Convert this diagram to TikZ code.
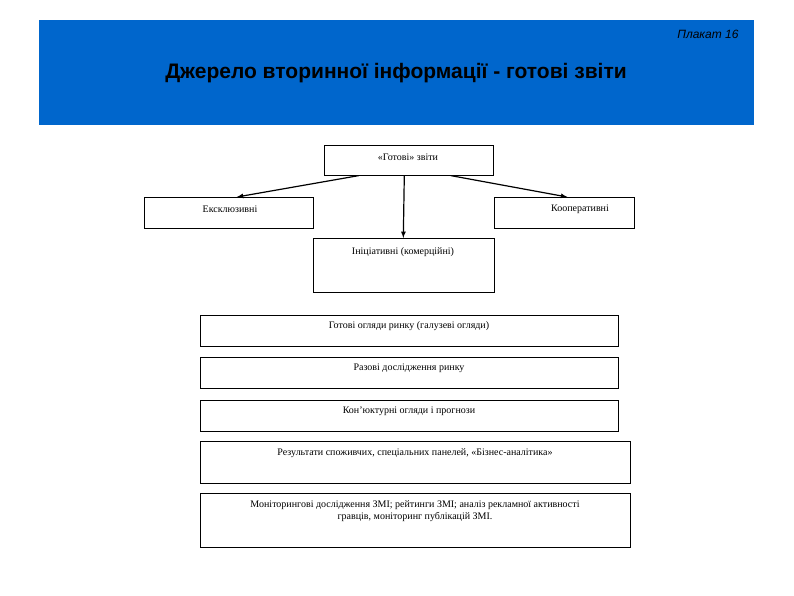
\documentclass[tikz,border=0pt]{standalone}
\usepackage{fontspec}
\setmainfont{Liberation Serif}
\newfontfamily\hdr{Liberation Sans}
\begin{document}
\begin{tikzpicture}[x=1pt,y=-1pt,
  bx/.style={draw=black,line width=0.6pt},
  lbl/.style={font=\fontsize{10}{12}\selectfont,inner sep=0pt,align=center},
  arr/.style={-latex,line width=1.2pt}]
\useasboundingbox (0,0) rectangle (794,595);
\fill[white] (0,0) rectangle (794,595);
\fill[fill={rgb,255:red,0;green,102;blue,204}] (39,20) rectangle (754,125);
\node[anchor=east,font=\hdr\itshape\fontsize{12}{14}\selectfont] (pl) at (742,34) {Плакат 16};
\node[font=\hdr\bfseries\fontsize{21}{24}\selectfont] (title) at (396,73) {Джерело вторинної інформації - готові звіти};
\node[bx,minimum width=169,minimum height=30,anchor=north west] (top) at (324,145) {};
\node[lbl] at (408,157) {«Готові» звіти};
\node[bx,minimum width=169,minimum height=31,anchor=north west] (exk) at (144,197) {};
\node[lbl] at (230,209) {Ексклюзивні};
\node[bx,minimum width=140,minimum height=31,anchor=north west] (koop) at (494,197) {};
\node[lbl] at (580,209) {Кооперативні};
\node[bx,minimum width=181,minimum height=54,anchor=north west] (ini) at (313,238) {};
\node[lbl] at (403,252) {Ініціативні (комерційні)};
\node[bx,minimum width=418,minimum height=31,anchor=north west] (b1) at (200,315) {};
\node[lbl] at (409,326) {Готові огляди ринку (галузеві огляди)};
\node[bx,minimum width=418,minimum height=31,anchor=north west] (b2) at (200,357) {};
\node[lbl] at (409,368) {Разові дослідження ринку};
\node[bx,minimum width=418,minimum height=31,anchor=north west] (b3) at (200,400) {};
\node[lbl] at (409,411) {Кон’юктурні огляди і прогнози};
\node[bx,minimum width=430,minimum height=42,anchor=north west] (b4) at (200,441) {};
\node[lbl] at (415,453) {Результати споживчих, спеціальних панелей, «Бізнес-аналітика»};
\node[bx,minimum width=430,minimum height=54,anchor=north west] (b5) at (200,493) {};
\node[lbl,anchor=north] at (415,500) {Моніторингові дослідження ЗМІ; рейтинги ЗМІ; аналіз рекламної активності\\гравців, моніторинг публікацій ЗМІ.};
\draw[arr] ([xshift=-50]top.south) -- ([xshift=8]exk.north);
\draw[arr] ([xshift=-4.5]top.south) -- ([xshift=-0.5]ini.north);
\draw[arr] ([xshift=42]top.south) -- ([xshift=3]koop.north);
\end{tikzpicture}
\end{document}
